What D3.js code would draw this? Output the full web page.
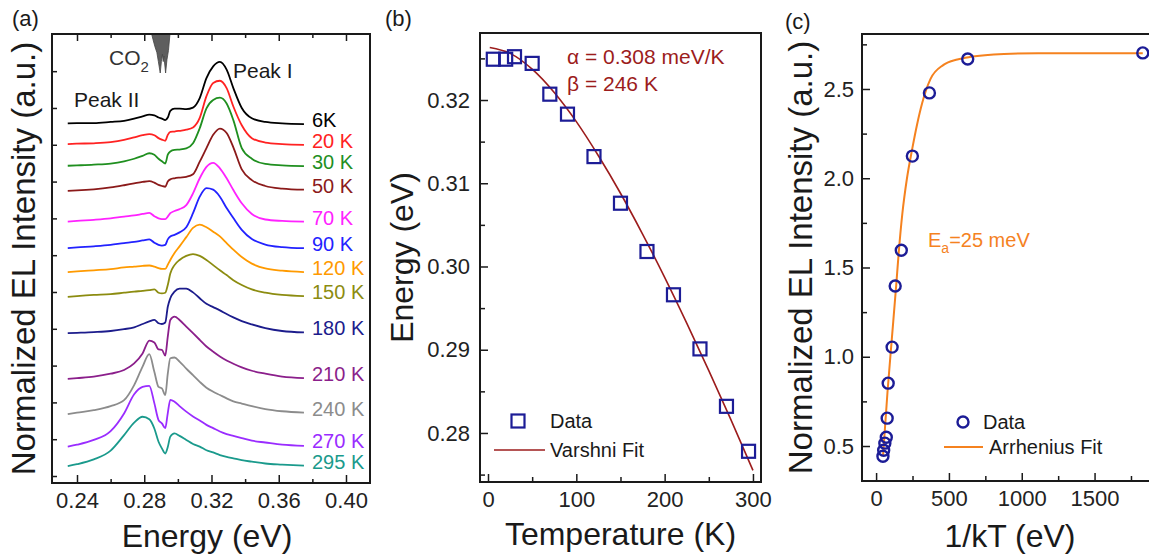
<!DOCTYPE html>
<html>
<head>
<meta charset="utf-8">
<script src="https://cdn.jsdelivr.net/npm/d3@7"></script>
<style>
  body { margin: 0; background: #fff; }
  text { font-family: "Liberation Sans", Arial, sans-serif; }
</style>
</head>
<body>
<svg id="fig" width="1149" height="557"></svg>
<script>
// ---- panel (a): EL spectra, one curve per temperature ----
const energyGrid = [0.2345, 0.240, 0.250, 0.260, 0.268, 0.274, 0.279, 0.283, 0.286, 0.2885,
  0.2905, 0.2925, 0.2940, 0.2955, 0.298, 0.301, 0.305, 0.309, 0.313, 0.317,
  0.321, 0.325, 0.329, 0.333, 0.338, 0.344, 0.352, 0.362, 0.375]

const tempLabels = ['6K', '20 K', '30 K', '50 K', '70 K', '90 K', '120 K', '150 K', '180 K', '210 K', '240 K', '270 K', '295 K']
const tempColors = ['#000000', '#ff2222', '#1f8f1f', '#8b1a1a', '#ff22ff', '#2222ff', '#ff9a00', '#8c8c10', '#1c1c8c', '#8b1f8b', '#8c8c8c', '#9a2cff', '#1a9a8c']
// vertical offset of each curve (a.u.)
const spectraOffsets = [9.58, 9.02, 8.43, 7.77, 6.91, 6.19, 5.54, 4.87, 3.88, 2.64, 1.68, 0.80, 0.27]

const spec6K = [0.00, 0.01, 0.01, 0.04, 0.07, 0.13, 0.19, 0.24, 0.22, 0.16, 0.13, 0.09, 0.16, 0.34, 0.40, 0.40, 0.39, 0.43, 0.69, 1.23, 1.55, 1.67, 1.46, 0.96, 0.42, 0.14, 0.04, 0.00, -0.02]
const spec20K = [0.00, 0.01, 0.02, 0.05, 0.11, 0.18, 0.24, 0.27, 0.24, 0.16, 0.12, 0.09, 0.25, 0.33, 0.34, 0.36, 0.39, 0.45, 0.71, 1.30, 1.66, 1.72, 1.52, 1.02, 0.51, 0.16, 0.04, 0.00, -0.02]
const spec30K = [0.00, 0.01, 0.03, 0.06, 0.12, 0.19, 0.27, 0.34, 0.30, 0.19, 0.12, 0.06, 0.30, 0.39, 0.43, 0.44, 0.47, 0.61, 1.02, 1.56, 1.79, 1.85, 1.69, 1.24, 0.48, 0.19, 0.05, 0.01, -0.01]
const spec50K = [-0.02, -0.01, 0.02, 0.07, 0.13, 0.18, 0.22, 0.24, 0.20, 0.14, 0.11, 0.09, 0.23, 0.29, 0.32, 0.34, 0.36, 0.43, 0.77, 1.14, 1.50, 1.67, 1.55, 1.16, 0.56, 0.27, 0.11, 0.04, 0.01]
const spec70K = [0.00, 0.02, 0.05, 0.09, 0.14, 0.17, 0.21, 0.24, 0.15, 0.09, 0.07, 0.07, 0.14, 0.23, 0.29, 0.34, 0.45, 0.77, 1.18, 1.49, 1.60, 1.45, 1.18, 0.86, 0.50, 0.21, 0.06, 0.02, 0.00]
const spec90K = [0.00, 0.02, 0.05, 0.09, 0.14, 0.17, 0.21, 0.24, 0.15, 0.09, 0.07, 0.09, 0.24, 0.32, 0.36, 0.43, 0.57, 0.95, 1.40, 1.63, 1.59, 1.40, 1.09, 0.82, 0.50, 0.25, 0.10, 0.03, 0.00]
const spec120K = [0.00, 0.02, 0.05, 0.08, 0.13, 0.15, 0.17, 0.18, 0.15, 0.11, 0.09, 0.09, 0.20, 0.33, 0.52, 0.70, 0.95, 1.20, 1.29, 1.22, 1.10, 0.97, 0.79, 0.61, 0.41, 0.23, 0.10, 0.04, 0.00]
const spec150K = [0.00, 0.02, 0.05, 0.07, 0.11, 0.14, 0.16, 0.18, 0.20, 0.11, 0.09, 0.11, 0.32, 0.63, 0.86, 1.00, 1.11, 1.16, 1.11, 1.00, 0.86, 0.72, 0.59, 0.45, 0.32, 0.20, 0.11, 0.05, 0.02]
const spec180K = [0.00, 0.01, 0.03, 0.06, 0.11, 0.16, 0.25, 0.32, 0.36, 0.27, 0.25, 0.29, 0.72, 0.95, 1.13, 1.21, 1.21, 1.11, 0.95, 0.80, 0.71, 0.62, 0.52, 0.43, 0.33, 0.24, 0.14, 0.06, 0.02]
const spec210K = [0.00, 0.02, 0.06, 0.14, 0.24, 0.42, 0.69, 1.04, 0.99, 0.80, 0.79, 0.63, 1.15, 1.60, 1.69, 1.60, 1.42, 1.24, 1.06, 0.88, 0.74, 0.61, 0.50, 0.41, 0.31, 0.22, 0.14, 0.06, 0.02]
const spec240K = [0.00, 0.04, 0.11, 0.22, 0.38, 0.79, 1.29, 1.63, 1.15, 0.74, 0.70, 0.52, 1.10, 1.52, 1.54, 1.43, 1.24, 1.06, 0.88, 0.72, 0.61, 0.52, 0.43, 0.35, 0.29, 0.22, 0.14, 0.08, 0.04]
const spec270K = [0.00, 0.05, 0.18, 0.42, 0.90, 1.42, 1.62, 1.65, 1.18, 0.72, 0.63, 0.50, 0.91, 1.27, 1.22, 1.10, 0.95, 0.82, 0.71, 0.59, 0.50, 0.41, 0.34, 0.29, 0.23, 0.16, 0.11, 0.05, 0.02]
const spec295K = [0.00, 0.05, 0.18, 0.42, 0.84, 1.18, 1.34, 1.27, 1.02, 0.66, 0.48, 0.34, 0.52, 0.80, 0.89, 0.82, 0.71, 0.60, 0.53, 0.43, 0.37, 0.30, 0.25, 0.21, 0.16, 0.12, 0.07, 0.04, 0.01]
const spectra = [spec6K, spec20K, spec30K, spec50K, spec70K, spec90K, spec120K, spec150K, spec180K, spec210K, spec240K, spec270K, spec295K]

// CO2 absorption marker hanging from the top axis (depth in a.u.)
const co2Energy = [0.2844, 0.2852, 0.2864, 0.2875, 0.2884, 0.2895, 0.2902, 0.2908, 0.2913, 0.2917, 0.2927, 0.2935, 0.2944, 0.2953]
const co2Depth = [0, 0.15, 0.35, 0.5, 0.75, 1.06, 0.75, 0.55, 0.75, 0.6, 1.06, 0.7, 0.45, 0]

const aMajorTicks = [0.24, 0.28, 0.32, 0.36, 0.40]
const aMinorTicks = [0.26, 0.30, 0.34, 0.38]
const aYTicks = [0, 1, 2, 3, 4, 5, 6, 7, 8, 9, 10, 11]

// ---- panel (b): peak energy vs temperature ----
const peakTemps = [6, 20, 30, 50, 70, 90, 120, 150, 180, 210, 240, 270, 295]
const peakEnergy = [0.3249, 0.3249, 0.3252, 0.3244, 0.3207, 0.3183, 0.3132, 0.3076, 0.3018, 0.2966, 0.2901, 0.2832, 0.2778]
const varshniT = [2, 25, 50, 75, 100, 125, 150, 175, 200, 225, 250, 275, 300]
const varshniE = [0.3263, 0.3256, 0.3237, 0.3209, 0.3174, 0.3133, 0.3088, 0.3039, 0.2987, 0.2932, 0.2875, 0.2816, 0.2755]
const bXMajor = [0, 100, 200, 300]
const bXMinor = [50, 150, 250]
const bYMajor = [0.28, 0.29, 0.30, 0.31, 0.32]
const bYMinor = [0.275, 0.285, 0.295, 0.305, 0.315, 0.325]

// ---- panel (c): integrated intensity vs 1/kT ----
const invKT = [1831, 629, 366, 249, 173, 131, 110, 83, 76, 70, 60, 52, 47]
const elIntensity = [2.702, 2.668, 2.478, 2.124, 1.597, 1.396, 1.054, 0.852, 0.656, 0.549, 0.516, 0.476, 0.443]
const arrhX = [48, 78, 108, 138, 155, 180, 212, 247, 281, 316, 373, 463, 558, 650, 878, 1113, 1831]
const arrhY = [0.45, 0.80, 1.10, 1.40, 1.58, 1.80, 2.00, 2.16, 2.30, 2.42, 2.555, 2.635, 2.665, 2.68, 2.696, 2.70, 2.70]
const cXMajor = [0, 500, 1000, 1500]
const cXMinor = [250, 750, 1250, 1750]
const cYMajor = [0.5, 1.0, 1.5, 2.0, 2.5]
const cYMinor = [0.75, 1.25, 1.75, 2.25, 2.75]

const navy = '#1c1c96'
const fitRed = '#9c1c1c'
const orange = '#f5821f'
const ink = '#1a1a1a'

const svg = d3.select('#fig')
svg.append('rect').attr('width', 1149).attr('height', 557).attr('fill', '#fff')

function styleAxis(g, size) {
  g.select('.domain').remove()
  g.selectAll('.tick line').attr('stroke', ink).attr('stroke-width', 1.5)
  g.selectAll('.tick text').attr('fill', '#222').style('font-size', (size || 22) + 'px')
  return g
}

function drawFrame(box) {
  svg.append('rect')
    .attr('x', box.l).attr('y', box.t)
    .attr('width', box.r - box.l).attr('height', box.b - box.t)
    .attr('fill', 'none').attr('stroke', ink).attr('stroke-width', 2)
}

function addText(x, y, str, size, color, anchor) {
  return svg.append('text')
    .attr('x', x).attr('y', y)
    .attr('fill', color || ink)
    .style('font-size', size + 'px')
    .attr('text-anchor', anchor || 'start')
    .text(str)
}

// ================= panel (a) =================
const A = {l: 52, t: 34, r: 370, b: 483}
const xA = d3.scaleLinear().domain([0.22513, 0.41428]).range([A.l, A.r])
const yA = d3.scaleLinear().domain([-0.19, 12.01]).range([A.b, A.t])

// CO2 absorption band
const co2Pts = co2Energy.map((e, i) => ({e: e, d: co2Depth[i]}))
svg.append('path')
  .datum(co2Pts)
  .attr('fill', '#5e5e5e')
  .attr('stroke', '#444')
  .attr('stroke-width', 0.8)
  .attr('d', d3.area()
    .x(d => xA(d.e))
    .y0(yA(12.01))
    .y1(d => yA(12.01 - d.d))
    .curve(d3.curveLinear))

const specLine = d3.line()
  .x((d, i) => xA(energyGrid[i]))
  .y(d => yA(d))
  .curve(d3.curveMonotoneX)

spectra.forEach((s, k) => {
  svg.append('path')
    .datum(s.map(v => v + spectraOffsets[k]))
    .attr('fill', 'none')
    .attr('stroke', tempColors[k])
    .attr('stroke-width', 1.8)
    .attr('stroke-linejoin', 'round')
    .attr('d', specLine)
})

// temperature labels at the right end of each curve, nudged apart from the bottom up
const labelYs = spectra.map((s, k) => yA(s[s.length - 1] + spectraOffsets[k]) - 4)
for (let k = labelYs.length - 2; k >= 0; k--) {
  if (labelYs[k + 1] - labelYs[k] < 21) labelYs[k] = labelYs[k + 1] - 21
}
tempLabels.forEach((t, k) => {
  addText(312, labelYs[k], t, 20, tempColors[k]).attr('dy', '0.35em')
})

drawFrame(A)
styleAxis(svg.append('g').attr('transform', `translate(0,${A.b})`)
  .call(d3.axisBottom(xA).tickValues(aMajorTicks).tickSize(-8).tickPadding(9).tickFormat(d3.format('.2f'))))
styleAxis(svg.append('g').attr('transform', `translate(0,${A.b})`)
  .call(d3.axisBottom(xA).tickValues(aMinorTicks).tickSize(-4).tickFormat('')))
styleAxis(svg.append('g').attr('transform', `translate(0,${A.t})`)
  .call(d3.axisTop(xA).tickValues(aMajorTicks).tickSize(-7).tickFormat('')))
styleAxis(svg.append('g').attr('transform', `translate(0,${A.t})`)
  .call(d3.axisTop(xA).tickValues(aMinorTicks).tickSize(-4).tickFormat('')))
styleAxis(svg.append('g').attr('transform', `translate(${A.l},0)`)
  .call(d3.axisLeft(yA).tickValues(aYTicks).tickSize(-5).tickFormat('')))

const co2 = addText(109, 65, 'CO', 21, '#333')
co2.append('tspan').attr('dy', 7).style('font-size', '15px').text('2')
addText(233, 78, 'Peak I', 21, ink)
addText(74, 107, 'Peak II', 21, ink)

addText(12, 26, '(a)', 22, ink)
addText((A.l + A.r) / 2 - 4, 547, 'Energy (eV)', 32, ink, 'middle')
svg.append('text')
  .attr('transform', `translate(35,${(A.t + A.b) / 2}) rotate(-90)`)
  .attr('text-anchor', 'middle').attr('fill', ink).style('font-size', '33px')
  .text('Normalized EL Intensity (a.u.)')

// ================= panel (b) =================
const B = {l: 480, t: 33, r: 761, b: 482}
const xB = d3.scaleLinear().domain([-9.06, 309.1]).range([B.l, B.r])
const yB = d3.scaleLinear().domain([0.27411, 0.32805]).range([B.b, B.t])

svg.append('path')
  .datum(varshniT.map((t, i) => [t, varshniE[i]]))
  .attr('fill', 'none').attr('stroke', fitRed).attr('stroke-width', 1.6)
  .attr('d', d3.line().x(d => xB(d[0])).y(d => yB(d[1])).curve(d3.curveMonotoneX))

svg.append('g').selectAll('rect')
  .data(peakTemps.map((t, i) => [t, peakEnergy[i]]))
  .join('rect')
  .attr('x', d => xB(d[0]) - 6.5).attr('y', d => yB(d[1]) - 6.5)
  .attr('width', 13).attr('height', 13)
  .attr('fill', 'none').attr('stroke', navy).attr('stroke-width', 2.2)

drawFrame(B)
styleAxis(svg.append('g').attr('transform', `translate(0,${B.b})`)
  .call(d3.axisBottom(xB).tickValues(bXMajor).tickSize(-8).tickPadding(9).tickFormat(d3.format('d'))))
styleAxis(svg.append('g').attr('transform', `translate(0,${B.b})`)
  .call(d3.axisBottom(xB).tickValues(bXMinor).tickSize(-5).tickFormat('')))
styleAxis(svg.append('g').attr('transform', `translate(${B.l},0)`)
  .call(d3.axisLeft(yB).tickValues(bYMajor).tickSize(-8).tickPadding(10).tickFormat(d3.format('.2f'))))
styleAxis(svg.append('g').attr('transform', `translate(${B.l},0)`)
  .call(d3.axisLeft(yB).tickValues(bYMinor).tickSize(-5).tickFormat('')))

addText(567, 64, 'α = 0.308 meV/K', 21, fitRed)
addText(567, 91, 'β = 246 K', 21, fitRed)

// legend
svg.append('rect').attr('x', 511.5).attr('y', 414.5).attr('width', 13).attr('height', 13)
  .attr('fill', 'none').attr('stroke', navy).attr('stroke-width', 2.2)
addText(550, 421, 'Data', 20, ink).attr('dy', '0.35em')
svg.append('line').attr('x1', 494).attr('x2', 545).attr('y1', 450).attr('y2', 450)
  .attr('stroke', fitRed).attr('stroke-width', 1.6)
addText(550, 450, 'Varshni Fit', 20, ink).attr('dy', '0.35em')

addText(385, 26, '(b)', 22, ink)
addText((B.l + B.r) / 2, 545, 'Temperature (K)', 32, ink, 'middle')
svg.append('text')
  .attr('transform', `translate(413,${(B.t + B.b) / 2}) rotate(-90)`)
  .attr('text-anchor', 'middle').attr('fill', ink).style('font-size', '32px')
  .text('Energy (eV)')

// ================= panel (c) =================
const C = {l: 862, t: 34, r: 1162, b: 481}
const xC = d3.scaleLinear().domain([-96.8, 1963]).range([C.l, C.r])
const yC = d3.scaleLinear().domain([0.304, 2.808]).range([C.b, C.t])

svg.append('path')
  .datum(arrhX.map((x, i) => [x, arrhY[i]]))
  .attr('fill', 'none').attr('stroke', orange).attr('stroke-width', 2)
  .attr('d', d3.line().x(d => xC(d[0])).y(d => yC(d[1])).curve(d3.curveMonotoneX))

svg.append('g').selectAll('circle')
  .data(invKT.map((x, i) => [x, elIntensity[i]]))
  .join('circle')
  .attr('cx', d => xC(d[0])).attr('cy', d => yC(d[1])).attr('r', 5.5)
  .attr('fill', 'none').attr('stroke', navy).attr('stroke-width', 2.4)

drawFrame(C)
styleAxis(svg.append('g').attr('transform', `translate(0,${C.b})`)
  .call(d3.axisBottom(xC).tickValues(cXMajor).tickSize(-8).tickPadding(9).tickFormat(d3.format('d'))))
styleAxis(svg.append('g').attr('transform', `translate(0,${C.b})`)
  .call(d3.axisBottom(xC).tickValues(cXMinor).tickSize(-5).tickFormat('')))
styleAxis(svg.append('g').attr('transform', `translate(${C.l},0)`)
  .call(d3.axisLeft(yC).tickValues(cYMajor).tickSize(-8).tickPadding(8).tickFormat(d3.format('.1f'))))
styleAxis(svg.append('g').attr('transform', `translate(${C.l},0)`)
  .call(d3.axisLeft(yC).tickValues(cYMinor).tickSize(-5).tickFormat('')))

const ea = addText(928, 247, 'E', 20, orange)
ea.append('tspan').attr('dy', 6).style('font-size', '14px').text('a')
ea.append('tspan').attr('dy', -6).text('=25 meV')

svg.append('circle').attr('cx', 963).attr('cy', 422).attr('r', 5.5)
  .attr('fill', 'none').attr('stroke', navy).attr('stroke-width', 2.4)
addText(983, 422, 'Data', 20, ink).attr('dy', '0.35em')
svg.append('line').attr('x1', 944).attr('x2', 983).attr('y1', 447).attr('y2', 447)
  .attr('stroke', orange).attr('stroke-width', 2)
addText(989, 447, 'Arrhenius Fit', 20, ink).attr('dy', '0.35em')

addText(785, 29, '(c)', 22, ink)
addText(1010, 547, '1/kT (eV)', 32, ink, 'middle')
svg.append('text')
  .attr('transform', `translate(812,${(C.t + C.b) / 2}) rotate(-90)`)
  .attr('text-anchor', 'middle').attr('fill', ink).style('font-size', '33px')
  .text('Normalized EL Intensity (a.u.)')
</script>
</body>
</html>
